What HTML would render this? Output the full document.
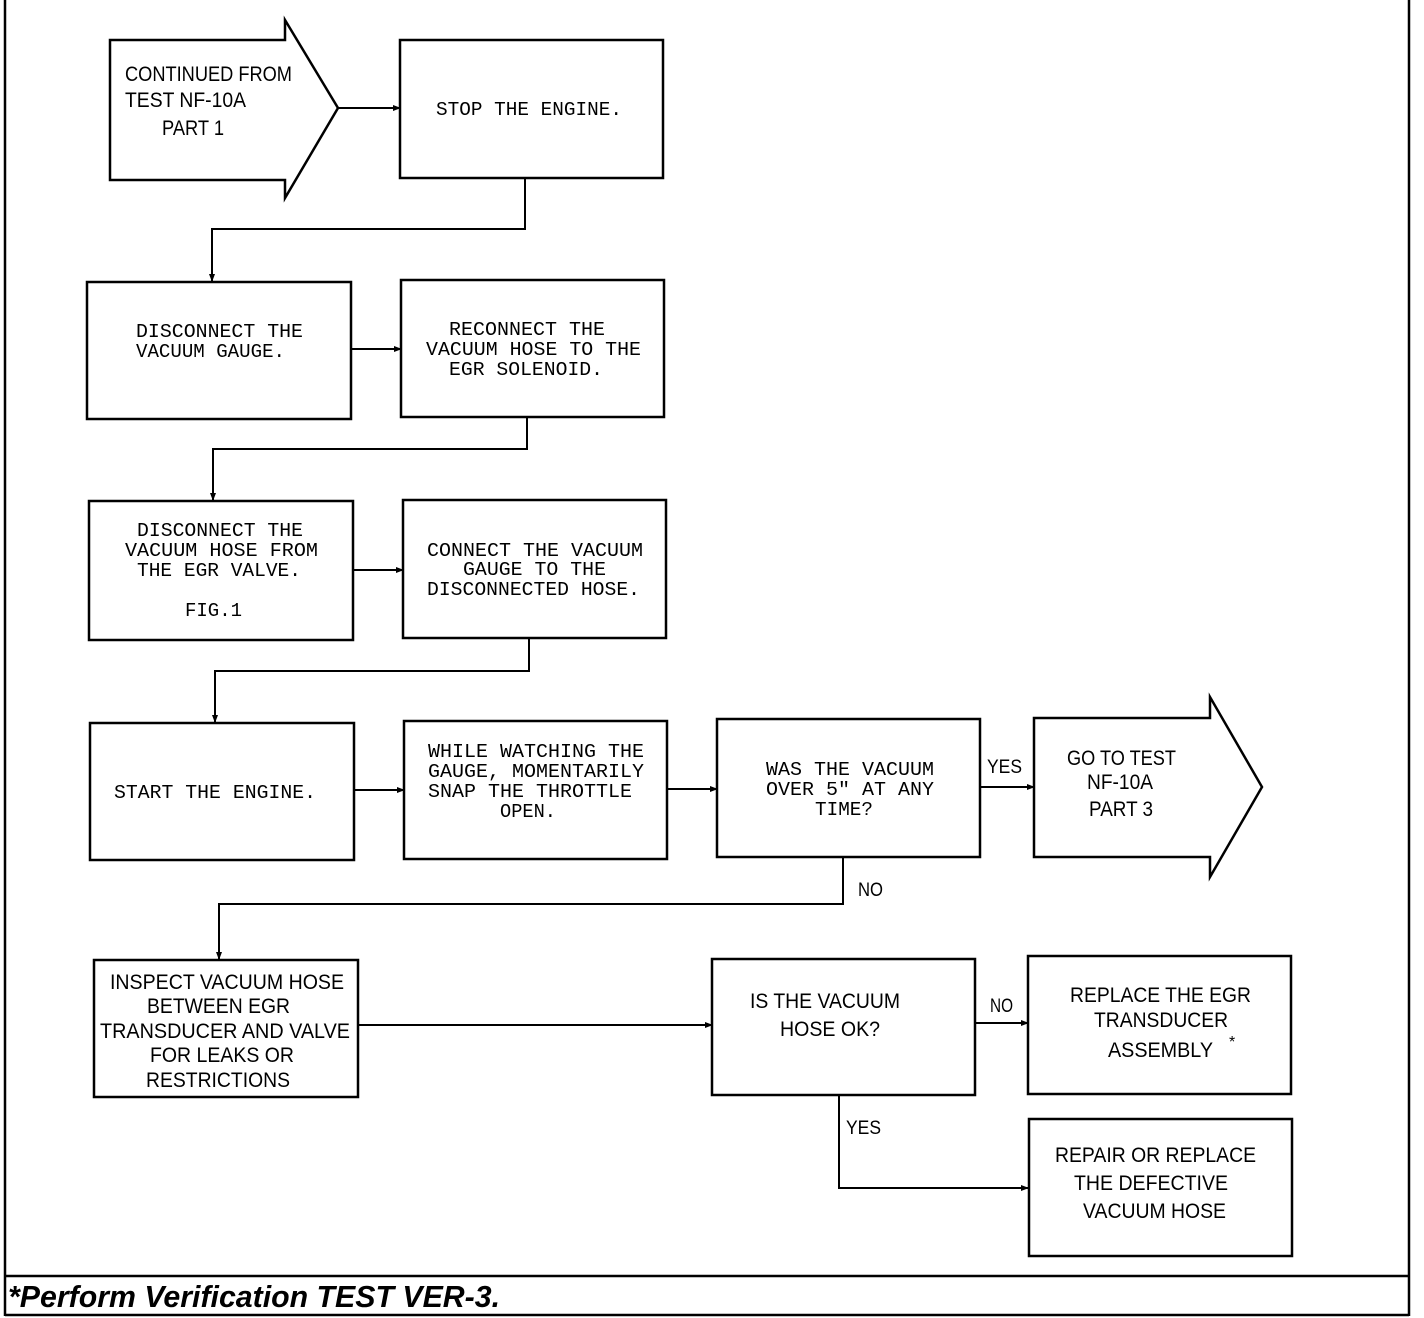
<!DOCTYPE html>
<html><head><meta charset="utf-8"><style>html,body{margin:0;padding:0;background:#fff}svg{display:block}</style></head>
<body>
<svg width="1424" height="1318" viewBox="0 0 1424 1318" xmlns="http://www.w3.org/2000/svg">
<defs><marker id="a" markerWidth="8" markerHeight="8" refX="7" refY="4" orient="auto" markerUnits="userSpaceOnUse"><path d="M0,1 L8,4 L0,7 z" fill="#000"/></marker></defs>
<g fill="none" stroke="#000" stroke-width="2.5">
<line x1="5" y1="0" x2="5" y2="1316"/>
<line x1="1409" y1="0" x2="1409" y2="1316"/>
<line x1="5" y1="1276" x2="1409" y2="1276"/>
<line x1="5" y1="1315" x2="1409" y2="1315"/>
<path d="M110,40 H285 V20 L338,108 L285,198 V180 H110 Z"/>
<rect x="400" y="40" width="263" height="138"/>
<rect x="87" y="282" width="264" height="137"/>
<rect x="401" y="280" width="263" height="137"/>
<rect x="89" y="501" width="264" height="139"/>
<rect x="403" y="500" width="263" height="138"/>
<rect x="90" y="723" width="264" height="137"/>
<rect x="404" y="721" width="263" height="138"/>
<rect x="717" y="719" width="263" height="138"/>
<path d="M1034,718 H1210 V697 L1262,787 L1210,877 V857 H1034 Z"/>
<rect x="94" y="960" width="264" height="137"/>
<rect x="712" y="959" width="263" height="136"/>
<rect x="1028" y="956" width="263" height="138"/>
<rect x="1029" y="1119" width="263" height="137"/>
</g>
<g fill="none" stroke="#000" stroke-width="2" marker-end="url(#a)">
<path d="M338,108 H400"/>
<path d="M525,178 V229 H212 V281"/>
<path d="M351,349 H401"/>
<path d="M527,417 V449 H213 V500"/>
<path d="M353,570 H403"/>
<path d="M529,638 V671 H215 V722"/>
<path d="M354,790 H404"/>
<path d="M667,789 H717"/>
<path d="M980,787 H1034"/>
<path d="M843,857 V904 H219 V959"/>
<path d="M358,1025 H712"/>
<path d="M975,1023 H1028"/>
<path d="M839,1095 V1188 H1028"/>
</g>
<g font-family="Liberation Mono, monospace" font-size="19" fill="#000" lengthAdjust="spacingAndGlyphs">
<text x="436" y="115" textLength="186" lengthAdjust="spacingAndGlyphs">STOP THE ENGINE.</text>
<text x="136" y="337" textLength="167" lengthAdjust="spacingAndGlyphs">DISCONNECT THE</text>
<text x="136" y="357" textLength="149" lengthAdjust="spacingAndGlyphs">VACUUM GAUGE.</text>
<text x="449" y="335" textLength="156" lengthAdjust="spacingAndGlyphs">RECONNECT THE</text>
<text x="426" y="355" textLength="215" lengthAdjust="spacingAndGlyphs">VACUUM HOSE TO THE</text>
<text x="449" y="375" textLength="154" lengthAdjust="spacingAndGlyphs">EGR SOLENOID.</text>
<text x="137" y="536" textLength="166" lengthAdjust="spacingAndGlyphs">DISCONNECT THE</text>
<text x="125" y="556" textLength="193" lengthAdjust="spacingAndGlyphs">VACUUM HOSE FROM</text>
<text x="137" y="576" textLength="164" lengthAdjust="spacingAndGlyphs">THE EGR VALVE.</text>
<text x="185" y="616" textLength="57" lengthAdjust="spacingAndGlyphs">FIG.1</text>
<text x="427" y="556" textLength="216" lengthAdjust="spacingAndGlyphs">CONNECT THE VACUUM</text>
<text x="463" y="575" textLength="143" lengthAdjust="spacingAndGlyphs">GAUGE TO THE</text>
<text x="427" y="595" textLength="213" lengthAdjust="spacingAndGlyphs">DISCONNECTED HOSE.</text>
<text x="114" y="798" textLength="202" lengthAdjust="spacingAndGlyphs">START THE ENGINE.</text>
<text x="428" y="757" textLength="216" lengthAdjust="spacingAndGlyphs">WHILE WATCHING THE</text>
<text x="428" y="777" textLength="216" lengthAdjust="spacingAndGlyphs">GAUGE, MOMENTARILY</text>
<text x="428" y="797" textLength="204" lengthAdjust="spacingAndGlyphs">SNAP THE THROTTLE</text>
<text x="500" y="817" textLength="56" lengthAdjust="spacingAndGlyphs">OPEN.</text>
<text x="766" y="775" textLength="168" lengthAdjust="spacingAndGlyphs">WAS THE VACUUM</text>
<text x="766" y="795" textLength="168" lengthAdjust="spacingAndGlyphs">OVER 5" AT ANY</text>
<text x="815" y="815" textLength="58" lengthAdjust="spacingAndGlyphs">TIME?</text>
</g>
<g font-family="Liberation Sans, sans-serif" font-size="21" fill="#000">
<text x="125" y="81" textLength="167" lengthAdjust="spacingAndGlyphs">CONTINUED FROM</text>
<text x="125" y="107" textLength="121" lengthAdjust="spacingAndGlyphs">TEST NF-10A</text>
<text x="162" y="135" textLength="62" lengthAdjust="spacingAndGlyphs">PART 1</text>
<text x="1067" y="765" textLength="109" lengthAdjust="spacingAndGlyphs">GO TO TEST</text>
<text x="1087" y="789" textLength="66" lengthAdjust="spacingAndGlyphs">NF-10A</text>
<text x="1089" y="816" textLength="64" lengthAdjust="spacingAndGlyphs">PART 3</text>
<text x="110" y="989" textLength="234" lengthAdjust="spacingAndGlyphs">INSPECT VACUUM HOSE</text>
<text x="147" y="1013" textLength="143" lengthAdjust="spacingAndGlyphs">BETWEEN EGR</text>
<text x="100" y="1038" textLength="250" lengthAdjust="spacingAndGlyphs">TRANSDUCER AND VALVE</text>
<text x="150" y="1062" textLength="144" lengthAdjust="spacingAndGlyphs">FOR LEAKS OR</text>
<text x="146" y="1087" textLength="144" lengthAdjust="spacingAndGlyphs">RESTRICTIONS</text>
<text x="750" y="1008" textLength="150" lengthAdjust="spacingAndGlyphs">IS THE VACUUM</text>
<text x="780" y="1036" textLength="100" lengthAdjust="spacingAndGlyphs">HOSE OK?</text>
<text x="1070" y="1002" textLength="181" lengthAdjust="spacingAndGlyphs">REPLACE THE EGR</text>
<text x="1094" y="1027" textLength="134" lengthAdjust="spacingAndGlyphs">TRANSDUCER</text>
<text x="1108" y="1057" textLength="105" lengthAdjust="spacingAndGlyphs">ASSEMBLY</text>
<text x="1229" y="1047" font-size="16">*</text>
<text x="1055" y="1162" textLength="201" lengthAdjust="spacingAndGlyphs">REPAIR OR REPLACE</text>
<text x="1074" y="1190" textLength="154" lengthAdjust="spacingAndGlyphs">THE DEFECTIVE</text>
<text x="1083" y="1218" textLength="143" lengthAdjust="spacingAndGlyphs">VACUUM HOSE</text>
<text x="987" y="773" font-size="19" textLength="35" lengthAdjust="spacingAndGlyphs">YES</text>
<text x="858" y="896" font-size="19" textLength="25" lengthAdjust="spacingAndGlyphs">NO</text>
<text x="990" y="1012" font-size="19" textLength="23" lengthAdjust="spacingAndGlyphs">NO</text>
<text x="846" y="1134" font-size="19" textLength="35" lengthAdjust="spacingAndGlyphs">YES</text>
</g>
<text x="8" y="1307" font-family="Liberation Sans, sans-serif" font-size="31" font-weight="bold" font-style="italic" textLength="492" lengthAdjust="spacingAndGlyphs">*Perform Verification TEST VER-3.</text>
</svg>
</body></html>
